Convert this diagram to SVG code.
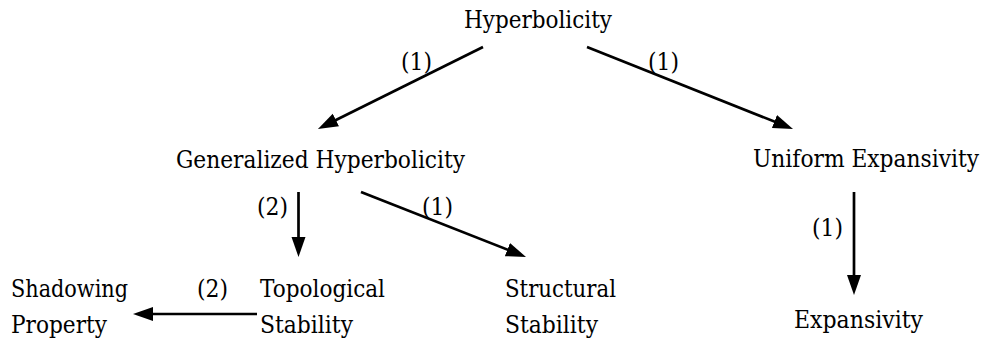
<svg xmlns="http://www.w3.org/2000/svg" width="987" height="343" viewBox="0 0 987 343">
<style>
text{font-family:'DejaVu Serif',serif;font-size:24px;fill:#000}
.edge{stroke:#000;stroke-width:2.7;fill:none}
</style>
<defs>
<marker id="ah" markerUnits="userSpaceOnUse" markerWidth="22" markerHeight="16" viewBox="0 0 22 16" refX="10" refY="8" orient="auto">
<path d="M0,1 L20,8 L0,15 Z" fill="#000"/>
</marker>
</defs>
<rect width="987" height="343" fill="#fff"/>
<g id="connectors">
<g id="e1"><path class="edge" d="M483,47 L326.9,124.5" marker-end="url(#ah)"/><text x="401" y="70" textLength="31" lengthAdjust="spacingAndGlyphs">(1)</text></g>
<g id="e2"><path class="edge" d="M587,47 L783.7,125.3" marker-end="url(#ah)"/><text x="648" y="70" textLength="31" lengthAdjust="spacingAndGlyphs">(1)</text></g>
<g id="e3"><path class="edge" d="M298.5,192 L298.5,247" marker-end="url(#ah)"/><text x="257" y="215" textLength="31" lengthAdjust="spacingAndGlyphs">(2)</text></g>
<g id="e4"><path class="edge" d="M361,192 L516.7,253.3" marker-end="url(#ah)"/><text x="422" y="215" textLength="31" lengthAdjust="spacingAndGlyphs">(1)</text></g>
<g id="e5"><path class="edge" d="M257,314 L143,314" marker-end="url(#ah)"/><text x="197" y="297" textLength="31" lengthAdjust="spacingAndGlyphs">(2)</text></g>
<g id="e6"><path class="edge" d="M854,192 L854,285" marker-end="url(#ah)"/><text x="812" y="236" textLength="31" lengthAdjust="spacingAndGlyphs">(1)</text></g>
</g>
<g id="hyperbolicity"><text x="464" y="28" textLength="148" lengthAdjust="spacingAndGlyphs">Hyperbolicity</text></g>
<g id="generalized"><text x="176" y="168" textLength="289" lengthAdjust="spacingAndGlyphs">Generalized Hyperbolicity</text></g>
<g id="uniform"><text x="979" y="167" text-anchor="end" textLength="226" lengthAdjust="spacingAndGlyphs">Uniform Expansivity</text></g>
<g id="expansivity"><text x="794" y="328" textLength="129" lengthAdjust="spacingAndGlyphs">Expansivity</text></g>
<g id="shadowing"><text x="11" y="297" textLength="117" lengthAdjust="spacingAndGlyphs">Shadowing</text><text x="11" y="333" textLength="96" lengthAdjust="spacingAndGlyphs">Property</text></g>
<g id="topological"><text x="260" y="297" textLength="125" lengthAdjust="spacingAndGlyphs">Topological</text><text x="260" y="333" textLength="93" lengthAdjust="spacingAndGlyphs">Stability</text></g>
<g id="structural"><text x="505" y="297" textLength="111" lengthAdjust="spacingAndGlyphs">Structural</text><text x="505" y="333" textLength="93" lengthAdjust="spacingAndGlyphs">Stability</text></g>
</svg>
